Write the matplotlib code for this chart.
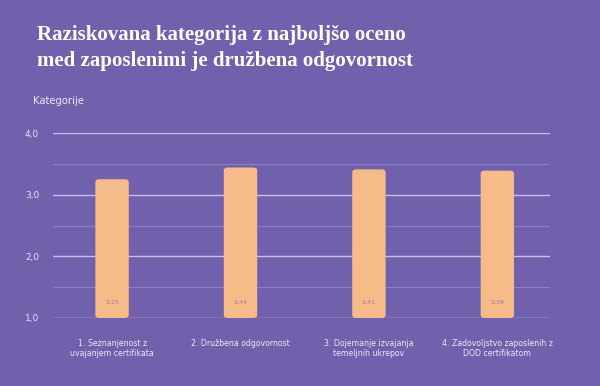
import numpy as np
import matplotlib.pyplot as plt
from matplotlib.patches import FancyBboxPatch

categories = ['1. Seznanjenost z\nuvajanjem certifikata', '2. Družbena odgovornost',
              '3. Dojemanje izvajanja\ntemeljnih ukrepov', '4. Zadovoljstvo zaposlenih z\nDOD certifikatom']
values = [3.25, 3.44, 3.41, 3.39]
yticks = [1.0, 2.0, 3.0, 4.0]
ytick_labels = ['1,0', '2,0', '3,0', '4,0']

bg = '#7160AB'
bar_col = '#F6BB88'

fig = plt.figure(figsize=(6, 3.86), dpi=100, facecolor=bg)
ax = fig.add_axes([53/600, 1-318/386, 497/600, (318-133)/386])
ax.set_facecolor(bg)

x = np.arange(len(values))
ax.set_xlim(-0.46, 3.41)
ax.set_ylim(1.0, 4.0)

for y in yticks:
    ax.axhline(y, color='#C9BEF0', lw=1.0, zorder=1)
for y in [1.5, 2.5, 3.5]:
    ax.axhline(y, color='#8E7FCC', lw=0.8, zorder=1)

bw = 0.26
for xi, v in zip(x, values):
    p = FancyBboxPatch((xi - bw/2, 1.0), bw, v - 1.0,
                       boxstyle='round,pad=0,rounding_size=0.03',
                       mutation_aspect=1.6,
                       fc=bar_col, ec='none', zorder=2)
    ax.add_patch(p)
    ax.text(xi, 1.26, f'{v:.2f}'.replace('.', ','), ha='center', va='center',
            fontsize=4.5, color='#9A7FA8', zorder=3)

ax.set_yticks(yticks)
ax.set_yticklabels(ytick_labels, color='#E8E2F8', fontsize=6.5)
ax.set_xticks(x)
ax.set_xticklabels(categories, color='#EDE8FA', fontsize=5.6, linespacing=1.15)
ax.tick_params(length=0, axis='y', pad=10)
ax.tick_params(length=0, axis='x', pad=15)
for s in ax.spines.values():
    s.set_visible(False)

fig.text(37/600, 1-48/386, 'Raziskovana kategorija z najboljšo oceno\nmed zaposlenimi je družbena odgovornost',
         fontsize=15, fontweight='bold', family='Liberation Serif', color='white',
         va='center', ha='left', linespacing=1.35)
fig.text(33/600, 1-101/386, 'Kategorije', fontsize=7.2, color='#EDE8FA', va='center', ha='left')

fig.savefig('out.png', dpi=100, facecolor=bg)
